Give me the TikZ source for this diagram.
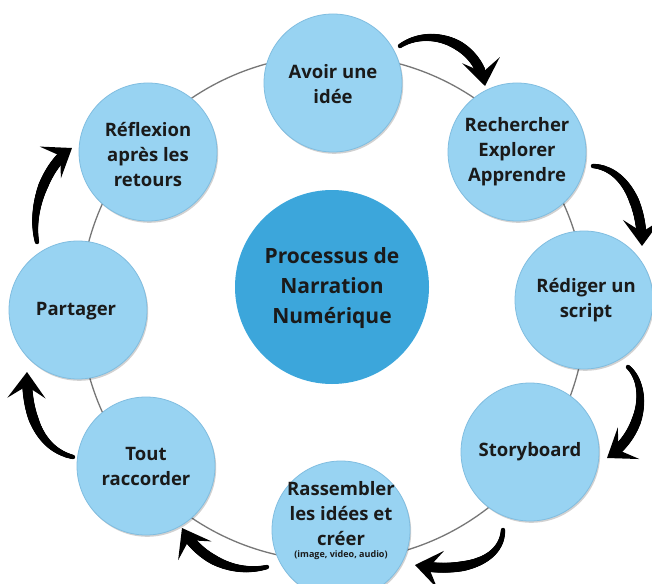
\documentclass[tikz,border=0pt]{standalone}
\usepackage{fontspec}
\setmainfont{Open Sans}
\usetikzlibrary{arrows.meta,shadows,decorations.markings}
\definecolor{satblue}{HTML}{98D3F2}
\definecolor{satedge}{HTML}{80BDE0}
\definecolor{midblue}{HTML}{3CA6DB}
\definecolor{ringgray}{HTML}{777777}
\definecolor{txt}{HTML}{1A1A1A}
\begin{document}
\begin{tikzpicture}[x=1pt,y=-1pt,
  sat/.style={circle, fill=satblue, draw=satedge, line width=0.8pt, minimum size=138pt, inner sep=0pt,
    drop shadow={shadow xshift=1.2pt, shadow yshift=-1.8pt, opacity=.18, fill=black}},
  hub/.style={circle, fill=midblue, minimum size=194pt, inner sep=0pt},
  lbl/.style={align=center, font=\fontsize{18.5}{25}\selectfont\bfseries, text=txt, inner sep=0pt},
  hublbl/.style={align=center, font=\fontsize{21}{30}\selectfont\bfseries, text=txt, inner sep=0pt},
  smalllbl/.style={align=center, font=\fontsize{9}{11}\selectfont\bfseries, text=txt, inner sep=0pt},
  flow/.style={line width=3pt, line cap=round, black,
    -{Stealth[length=26pt,width=38pt,inset=12pt]},
    postaction={decorate, decoration={markings,
      mark=between positions 0 and 0.86 step 0.8pt with {%
        \pgfmathsetmacro\rr{2.2+2.8*min(1,\pgfkeysvalueof{/pgf/decoration/mark info/distance from start}/(0.55*\pgfdecoratedpathlength))}%
        \fill[black] (0,0) circle[radius=\rr pt];}}}},
]
\useasboundingbox (0,0) rectangle (652,583);
\fill[white] (0,0) rectangle (652,583);
\draw[ringgray, line width=1.3pt] (333,308) circle[radius=253pt];

\node[hub] (hub) at (332,287) {};
\node[hublbl] (hubt) at (332,288) {Processus de\\Narration\\Numérique};

\node[sat] (s1) at (333,83) {};
\node[sat] (s2) at (517,152) {};
\node[sat] (s3) at (584,300) {};
\node[sat] (s4) at (530,452) {};
\node[sat] (s5) at (341,530) {};
\node[sat] (s6) at (146,466) {};
\node[sat] (s7) at (78,310) {};
\node[sat] (s8) at (148,152) {};

\node[lbl] (t1) at (333,84) {Avoir une\\idée};
\node[lbl] (t2) at (517,152) {Rechercher\\Explorer\\Apprendre};
\node[lbl] (t3) at (586,300) {Rédiger un\\script};
\node[lbl] (t4) at (530,452) {Storyboard};
\node[lbl] (t5) at (341,514) {Rassembler\\les idées et\\créer};
\node[smalllbl] (t5b) at (341,555) {(image, video, audio)};
\node[lbl] (t6) at (146,466) {Tout\\raccorder};
\node[lbl] (t7) at (76,311) {Partager};
\node[lbl] (t8) at (148,155) {Réflexion\\après les\\retours};

\coordinate (a1s) at (400,46);  \coordinate (a1e) at (485,86);
\coordinate (a2s) at (593,166); \coordinate (a2e) at (642,246);
\coordinate (a3s) at (628,367); \coordinate (a3e) at (607,458);
\coordinate (a4s) at (503,530); \coordinate (a4e) at (415,565);
\coordinate (a5s) at (267,567); \coordinate (a5e) at (182,528);
\coordinate (a6s) at (73,457);  \coordinate (a6e) at (27,372);
\coordinate (a7s) at (37,242);  \coordinate (a7e) at (72,148);

\draw[flow] (a1s) .. controls (430,26) and (478,42) .. (a1e);
\draw[flow] (a2s) .. controls (622,168) and (642,200) .. (a2e);
\draw[flow] (a3s) .. controls (648,385) and (645,432) .. (a3e);
\draw[flow] (a4s) .. controls (502,560) and (465,574) .. (a4e);
\draw[flow] (a5s) .. controls (235,575) and (200,560) .. (a5e);
\draw[flow] (a6s) .. controls (43,450) and (26,420) .. (a6e);
\draw[flow] (a7s) .. controls (30,210) and (45,166) .. (a7e);
\end{tikzpicture}
\end{document}
